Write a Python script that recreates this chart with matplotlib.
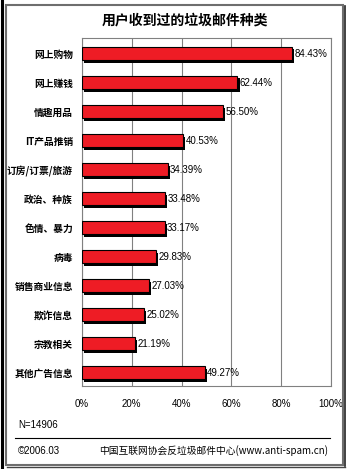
# -*- coding: utf-8 -*-
#####################################
# spam categories chart
#####################################

import numpy as np
import matplotlib
matplotlib.use('Agg')
import matplotlib.pyplot as plt
import matplotlib.patheffects as pe
from matplotlib.patches import Rectangle
from matplotlib.lines import Line2D

######################################
# data
######################################
title = '用户收到过的垃圾邮件种类'
categories = ['网上购物', '网上赚钱', '情趣用品', 'IT产品推销', '订房/订票/旅游',
              '政治、种族', '色情、暴力', '病毒', '销售商业信息', '欺诈信息',
              '宗教相关', '其他广告信息']
values = [84.43, 62.44, 56.50, 40.53, 34.39, 33.48, 33.17, 29.83, 27.03,
          25.02, 21.19, 49.27]
xticks = [0, 20, 40, 60, 80, 100]
note_n = 'N=14906'
note_date = '©2006.03'
note_src = '中国互联网协会反垃圾邮件中心(www.anti-spam.cn)'

cjk = ['Noto Sans CJK SC', 'DejaVu Sans']
plt.rcParams['font.family'] = cjk

######################################
# figure
######################################
fig = plt.figure(figsize=(3.5, 4.69), dpi=100)
W, H = 350.0, 469.0

ax = fig.add_axes([82 / W, 1 - 386 / H, 249 / W, 348.3 / H])
y = np.arange(len(categories))

bars = ax.barh(y, values, height=0.45, color='#ee1c25', edgecolor='black',
               linewidth=0.8, zorder=3)
for b in bars:
    b.set_path_effects([pe.SimplePatchShadow(offset=(1.5, -1.5),
                                             shadow_rgbFace='black', alpha=1),
                        pe.Normal()])

for yi, v in zip(y, values):
    ax.text(v + 1.0, yi, '%.2f%%' % v, va='center', ha='left', fontsize=7,
            family=['Liberation Sans', 'DejaVu Sans'], color='black', zorder=4)

ax.set_xlim(0, 100)
ax.set_ylim(len(categories) - 1 + 0.45, -0.56)
ax.set_xticks(xticks)
ax.set_xticklabels(['%d%%' % t for t in xticks], fontsize=7,
                   family=['Liberation Sans', 'DejaVu Sans'])
ax.set_yticks(y)
ax.set_yticklabels(categories, fontsize=7, fontweight='bold')
ax.tick_params(axis='both', length=0)
ax.tick_params(axis='y', pad=6.5)
ax.tick_params(axis='x', pad=9)
ax.xaxis.grid(True, color='#808080', linewidth=0.8, zorder=0)
ax.set_axisbelow(True)
for s in ax.spines.values():
    s.set_color('#808080')
    s.set_linewidth(0.8)

######################################
# title and notes
######################################
fig.text(185 / W, 1 - 20.5 / H, title, ha='center', va='center', fontsize=10,
         fontweight='bold')
fig.text(18 / W, 1 - 425 / H, note_n, ha='left', va='center', fontsize=7,
         family=['Liberation Sans', 'DejaVu Sans'])
fig.text(18 / W, 1 - 451 / H, note_date, ha='left', va='center', fontsize=7,
         family=['Liberation Sans', 'DejaVu Sans'])
fig.text(328 / W, 1 - 451 / H, note_src, ha='right', va='center', fontsize=7)
fig.add_artist(Line2D([15 / W, 330 / W], [1 - 438.3 / H, 1 - 438.3 / H],
                      color='black', linewidth=0.8))

# outer frame
fig.add_artist(Rectangle((6 / W, 1 - 465 / H), 337 / W, 460 / H, fill=False,
                         edgecolor='#6e6e6e', linewidth=1.5))
fig.add_artist(Line2D([344.5 / W, 344.5 / W], [1 - 466 / H, 1 - 6 / H],
                      color='#222222', linewidth=1.2))
fig.add_artist(Line2D([7 / W, 345 / W], [1 - 466.5 / H, 1 - 466.5 / H],
                      color='#444444', linewidth=1.0))
fig.add_artist(Line2D([1.5 / W, 1.5 / W], [0, 1], color='black', linewidth=2.2))

fig.savefig('out.png', dpi=100)
